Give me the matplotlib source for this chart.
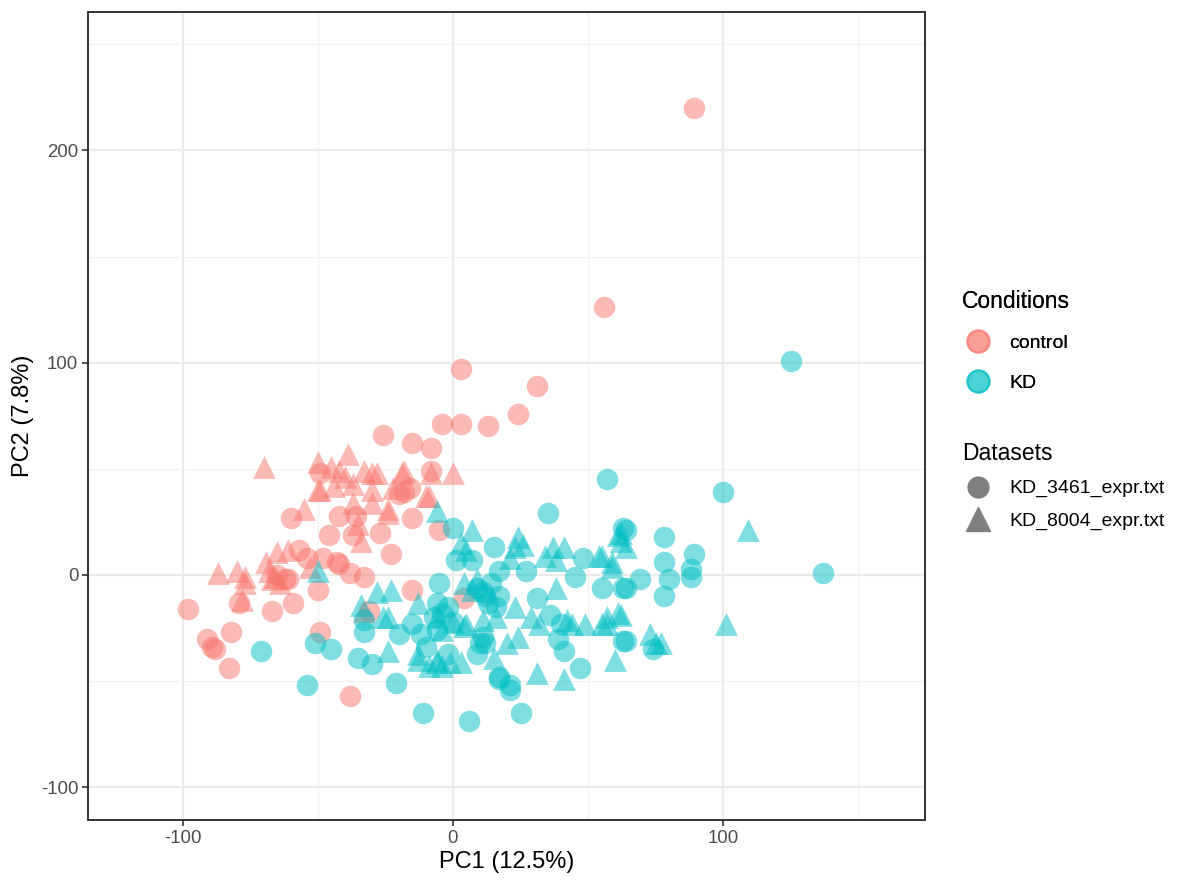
import matplotlib
matplotlib.use("Agg")
import matplotlib.pyplot as plt
from matplotlib.lines import Line2D
from matplotlib.colors import to_rgba

plt.rcParams['font.family'] = ['Liberation Sans', 'DejaVu Sans']
plt.rcParams['axes.unicode_minus'] = False

# PC scores, split by condition and dataset
ctrl_3461_x = [89, 56, 3, 31, 24, 13, 3, -4, -26, -15, -8, -8, -18, -16, -20, -49, -60, -42, -36,
               -46, -37, -27, -23, -15, -5, -57, -54, -48, -42, -38, -33, -50, -65, -61, -15, -62,
               -98, -91, -89, -88, -82, -83, -79, -67, -59, -49, -38, 4, -31, -43]
ctrl_3461_y = [220, 126, 97, 89, 76, 70, 71, 71, 66, 62, 60, 49, 39, 41, 38, 48, 27, 28, 28,
               19, 19, 20, 10, 27, 21, 12, 8, 8, 5, 1, -1, -7, 0, -2, -7, -2,
               -16, -30, -34, -35, -27, -44, -13, -17, -13, -27, -57, -11, -17, 6]

ctrl_8004_x = [-70, -50, -39, -45, -42, -40, -33, -28, -18, -8, 0, -50, -44, -37, -30, -22, -9,
               -37, -30, -55, -24, -34, -65, -61, -68, -66, -53, -87, -80, -77, -78, -67, -64,
               -69, -77, -35, -49, -19, -30, -10, -24, -33]
ctrl_8004_y = [51, 53, 57, 51, 49, 46, 49, 48, 49, 48, 48, 40, 42, 43, 40, 41, 37,
               34, 34, 31, 29, 16, 11, 12, 2, -1, 4, 1, 2, -1, -12, -2, -4,
               6, -4, 24, 40, 48, 48, 37, 31, -17]

kd_3461_x = [-71, -51, -45, -54, -5, -35, -30, -33, -33, -21, -11, 6, -20, -15, -12, -6, -2, -10,
             -2, 10, 14, 12, 11, 17, 35, 0, 15, 1, 7, 17, 27, 48, 45, 55, 63, 63, 31, 17, 9, 11,
             13, 16, 36, 40, 39, 41, 47, 63, 9, 12, 17, 21, 21, 25, -6, -4, 0, -7, 57, 100, 137,
             64, 78, 78, 89, 88, 88, 80, 78, 69, 64, 64, 74, 125]
kd_3461_y = [-36, -32, -35, -52, -4, -39, -42, -21, -27, -51, -65, -69, -28, -23, -28, -13, -15, -34,
             -37, -32, -4, -10, -29, -48, 29, 22, 13, 7, 7, 2, 2, 8, -1, -6, 22, -6, -11, -10, -6, -8,
             -13, -15, -19, -23, -30, -36, -44, -31, -37, -32, -49, -54, -52, -65, -26, -18, -22, -20,
             45, 39, 1, 21, 18, 6, 10, 3, -1, -2, -10, -2, -6, -31, -35, 101]

kd_8004_x = [-50, -23, -28, -34, -24, -26, -24, -13, -13, -13, -9, -6, -6, -1, 3, 4, 9, 5, 0, -4,
             -6, 7, 3, 5, 24, 23, 26, 21, 37, 41, 34, 38, 54, 59, 61, 62, 38, 23, 7, 16, 11, 29,
             32, 42, 44, 49, 55, 57, 61, 15, 20, 24, 31, 41, 60, 4, -6, -4, 109, 101, 62, 64, 59,
             55, 62, 57, 73, 77, 75]
kd_8004_y = [2, -7, -8, -14, -20, -20, -36, -13, -37, -40, -43, -20, -41, -41, -41, -4, -2, -23, -22,
             -26, 30, 21, 15, 12, 18, 13, 14, 8, 13, 13, 9, 7, 9, 6, 19, 16, -6, -15, -7, -20, -21,
             -20, -23, -21, -23, -23, -23, -20, -18, -39, -32, -29, -46, -49, -40, -24, -40, -43,
             21, -23, 20, 13, 4, 9, -19, -23, -28, -32, -32]

conditions = ['control', 'KD']
datasets = ['KD_3461_expr.txt', 'KD_8004_expr.txt']
red = '#F8766D'
teal = '#00BFC4'

fig = plt.figure(figsize=(11.81, 8.86), dpi=100)
ax = fig.add_axes([0.0745, 0.0745, 0.7085, 0.912])

alpha = 0.5
circ_s = 240
tri_s = 270
ax.scatter(ctrl_3461_x, ctrl_3461_y, s=circ_s, marker='o', color=red, alpha=alpha, linewidths=0, zorder=3)
ax.scatter(ctrl_8004_x, ctrl_8004_y, s=tri_s, marker='^', color=red, alpha=alpha, linewidths=0, zorder=3)
ax.scatter(kd_3461_x, kd_3461_y, s=circ_s, marker='o', color=teal, alpha=alpha, linewidths=0, zorder=3)
ax.scatter(kd_8004_x, kd_8004_y, s=tri_s, marker='^', color=teal, alpha=alpha, linewidths=0, zorder=3)

ax.set_xlim(-135, 174.5)
ax.set_ylim(-115.4, 265.2)
ax.set_xticks([-100, 0, 100])
ax.set_yticks([-100, 0, 100, 200])
ax.set_xticks([-50, 50, 150], minor=True)
ax.set_yticks([-50, 50, 150, 250], minor=True)
ax.grid(which='major', color='#EBEBEB', linewidth=1.6, zorder=0)
ax.grid(which='minor', color='#F2F2F2', linewidth=0.9, zorder=0)
ax.set_axisbelow(True)
ax.tick_params(which='major', length=4, width=1.2, color='#333333', labelsize=13.4,
               labelcolor='#4D4D4D', pad=3)
ax.tick_params(which='minor', length=0)
for sp in ax.spines.values():
    sp.set_color('#333333')
    sp.set_linewidth(1.4)

ax.set_xlabel('PC1 (12.5%)', fontsize=17, labelpad=3)
ax.set_ylabel('PC2 (7.8%)', fontsize=17, labelpad=5)

# legends, ggplot style
cond_handles = [Line2D([], [], marker='o', linestyle='', markersize=16,
                       markerfacecolor=to_rgba(c, 0.45), markeredgecolor=to_rgba(c, 0.55),
                       markeredgewidth=1.5) for c in [red, teal]]
leg1 = fig.legend(cond_handles, conditions, title='Conditions', loc='upper left',
                  bbox_to_anchor=(0.808, 0.682), frameon=False, fontsize=14, title_fontsize=16.5,
                  alignment='left', handlelength=1.6, handletextpad=0.83, labelspacing=1.14,
                  borderaxespad=0)
fig.add_artist(leg1)
ds_handles = [Line2D([], [], marker=m, linestyle='', markersize=ms, color='#7F7F7F')
              for m, ms in [('o', 15), ('^', 17)]]
fig.legend(ds_handles, datasets, title='Datasets', loc='upper left',
           bbox_to_anchor=(0.808, 0.51), frameon=False, fontsize=14, title_fontsize=16.5,
           alignment='left', handlelength=1.6, handletextpad=0.83, labelspacing=0.76,
           borderaxespad=0)

fig.savefig('out.png', dpi=100)
